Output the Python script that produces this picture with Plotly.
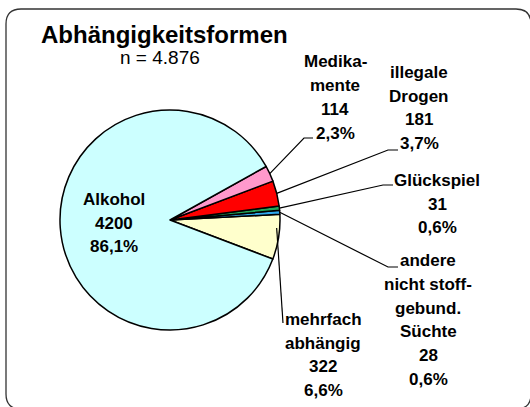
import math
import plotly.graph_objects as go

# ---- data ----
categories = ["mehrfach abhängig", "andere nicht stoffgebund. Süchte", "Glückspiel",
              "illegale Drogen", "Medikamente", "Alkohol"]
label_lines = [["mehrfach", "abhängig"], ["andere", "nicht stoff-", "gebund.", "Süchte"], ["Glückspiel"],
               ["illegale", "Drogen"], ["Medika-", "mente"], ["Alkohol"]]
values = [322, 28, 31, 181, 114, 4200]
colors = ["#FFFFCC", "#2FA8EE", "#22A65A", "#FF0000", "#FF99CC", "#CCFFFF"]
title_text = "Abhängigkeitsformen"
total = sum(values)
subtitle_text = "n = " + f"{total:,}".replace(",", ".")

# ---- layout constants (pixels) ----
W, H = 530, 407
CX, CY, R = 170, 220, 110
START_DEG = -20.8  # math angle where first slice starts (counterclockwise)
LINE_H = 23.7

def px(x):
    return x / W

def py(y):
    return 1 - y / H

label_pos = [(323, 355), (428, 320), (437, 204), (419, 108), (335, 97.5), (114, 223)]
elbows = [None, [(388, 267), (398, 267)], [(383, 185), (393, 185)],
          [(388, 150), (398, 150)], [(304, 138), (313, 138)], None]
mehrfach_end = (283, 323)

fig = go.Figure()
# plotly (counterclockwise): rotation marks the end of the first slice
rot = 90 - (START_DEG + values[0] / total * 360)
fig.add_trace(go.Pie(
    labels=categories, values=values, sort=False, direction="counterclockwise",
    rotation=rot, textinfo="none", hoverinfo="label+value+percent",
    marker=dict(colors=colors, line=dict(color="black", width=1.5)),
    domain=dict(x=[px(CX - R), px(CX + R)], y=[py(CY + R), py(CY - R)]),
    showlegend=False,
))

def fmt_pct(v):
    return f"{v / total * 100:.1f}".replace(".", ",") + "%"

LABEL_FONT = dict(family="Liberation Sans Narrow, Arial Narrow, Liberation Sans, Arial",
                  size=17, color="black", weight="bold")

shapes = []
annotations = []
cum = 0
for i, v in enumerate(values):
    mid = START_DEG + (cum + v / 2) / total * 360
    cum += v
    ax = CX + R * math.cos(math.radians(mid))
    ay = CY - R * math.sin(math.radians(mid))
    pts = None
    if elbows[i] is not None:
        pts = [(ax, ay)] + elbows[i]
    elif i == 0:
        pts = [(ax - 2, ay - 9), mehrfach_end]
    if pts:
        path = "M " + " L ".join(f"{px(x):.5f},{py(y):.5f}" for x, y in pts)
        shapes.append(dict(type="path", path=path, xref="paper", yref="paper",
                           line=dict(color="black", width=1.2)))
    lines = label_lines[i] + [str(v), fmt_pct(v)]
    lx, ly = label_pos[i]
    n = len(lines)
    for k, t in enumerate(lines):
        yy = ly + (k - (n - 1) / 2) * LINE_H
        annotations.append(dict(
            text=t, x=px(lx), y=py(yy), xref="paper", yref="paper",
            xanchor="center", yanchor="middle", showarrow=False, align="center",
            font=LABEL_FONT,
        ))

annotations.append(dict(text=f"<b>{title_text}</b>", x=px(164), y=py(35), xref="paper", yref="paper",
                        xanchor="center", yanchor="middle", showarrow=False,
                        font=dict(family="Liberation Sans, Arial", size=24, color="black")))
annotations.append(dict(text=subtitle_text, x=px(159.5), y=py(57), xref="paper", yref="paper",
                        xanchor="center", yanchor="middle", showarrow=False,
                        font=dict(family="Liberation Sans, Arial", size=19, color="black")))

# rounded frame
x0, y0, x1, y1, rr = 6, 9, 531, 409, 15
frame = (f"M {px(x0 + rr)},{py(y0)} L {px(x1 - rr)},{py(y0)} "
         f"Q {px(x1)},{py(y0)} {px(x1)},{py(y0 + rr)} L {px(x1)},{py(y1 - rr)} "
         f"Q {px(x1)},{py(y1)} {px(x1 - rr)},{py(y1)} L {px(x0 + rr)},{py(y1)} "
         f"Q {px(x0)},{py(y1)} {px(x0)},{py(y1 - rr)} L {px(x0)},{py(y0 + rr)} "
         f"Q {px(x0)},{py(y0)} {px(x0 + rr)},{py(y0)} Z")
shapes.append(dict(type="path", path=frame, xref="paper", yref="paper",
                   line=dict(color="#333333", width=1.3), layer="below"))

fig.update_layout(width=W, height=H, margin=dict(l=0, r=0, t=0, b=0),
                  paper_bgcolor="white", plot_bgcolor="white",
                  shapes=shapes, annotations=annotations)
fig.write_html("out.html", config={"displayModeBar": False},
               post_script="document.body.style.margin='0';document.body.style.overflow='hidden';")
